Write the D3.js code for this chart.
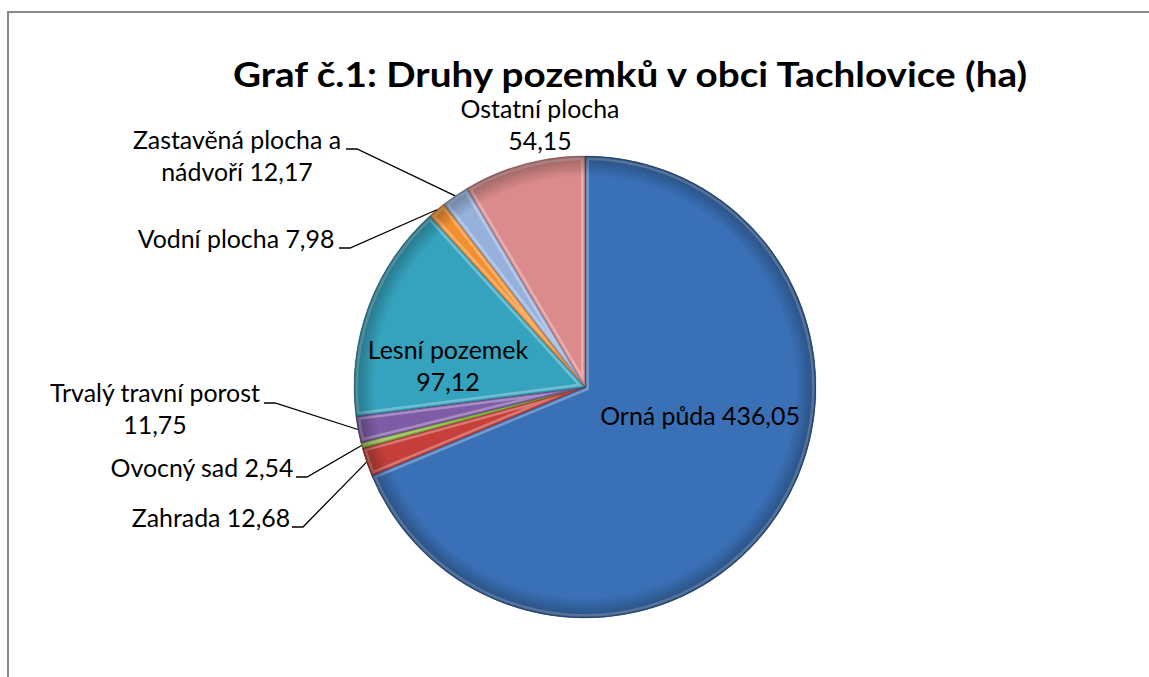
<!doctype html>
<html>
<head>
  <meta charset="utf-8">
  <style>
      body { margin:0; background:#fff; }
      svg { display:block; }
      text { font-family: Lato, "Open Sans", sans-serif; fill:#000; }
      .title { font-weight:bold; text-anchor:middle; }
      .lead { fill:none; stroke:#000; stroke-width:1.3; }
  </style>
  <script src="https://cdn.jsdelivr.net/npm/d3@7"></script>
</head>
<body>
  <script>
      // data
      var categories = ["Orná půda", "Zahrada", "Ovocný sad", "Trvalý travní porost",
                        "Lesní pozemek", "Vodní plocha", "Zastavěná plocha a nádvoří", "Ostatní plocha"];
      var values = [436.05, 12.68, 2.54, 11.75, 97.12, 7.98, 12.17, 54.15];
      var valueLabels = ["436,05", "12,68", "2,54", "11,75", "97,12", "7,98", "12,17", "54,15"];
      var colors = ["#3a70b6", "#c63f3a", "#8ab540", "#7f5ca6", "#35a3bd", "#f48f30", "#95b1dc", "#db8b8b"];

      // label lines (how Excel wrapped them)
      var labelLines = [
         ["Orná půda 436,05"],
         ["Zahrada 12,68"],
         ["Ovocný sad 2,54"],
         ["Trvalý travní porost", "11,75"],
         ["Lesní pozemek", "97,12"],
         ["Vodní plocha 7,98"],
         ["Zastavěná plocha a", "nádvoří 12,17"],
         ["Ostatní plocha", "54,15"]
      ];

      // layout of labels: centre x, first baseline y, leader start (null = no leader)
      var labelLayout = [
         {x:700, y:425, lead:null},
         {x:211, y:527, lead:[292, 527]},
         {x:202, y:477, lead:[296, 477]},
         {x:155, y:402, lead:[264, 403]},
         {x:448, y:359, lead:null},
         {x:236, y:248, lead:[339, 248]},
         {x:237, y:149, lead:[346, 149]},
         {x:540, y:118, lead:null}
      ];

      var W = 1149, H = 677;
      var cx = 585, cy = 387, R = 231;
      var lineH = 32;

      var svg = d3.select("body").append("svg")
         .attr("width", W)
         .attr("height", H);

      var defs = svg.append("defs");

      // frame (chart area border, partly cut off)
      svg.append("path")
         .attr("d", "M8," + H + " L8,12 L" + W + ",12")
         .attr("fill", "none")
         .attr("stroke", "#8a8a8a")
         .attr("stroke-width", 2);

      // title, squeezed to the width of the original
      svg.append("text")
         .attr("class", "title")
         .attr("x", 630)
         .attr("y", 87)
         .attr("textLength", 794)
         .attr("lengthAdjust", "spacingAndGlyphs")
         .style("font-size", "34px")
         .text("Graf č.1: Druhy pozemků v obci Tachlovice (ha)");

      // pie
      var pie = d3.pie().sort(null).value(function(d) { return d; });
      var arcs = pie(values);
      var arc = d3.arc().innerRadius(0).outerRadius(R);
      var rimArc = d3.arc().innerRadius(R).outerRadius(R);

      var g = svg.append("g").attr("transform", "translate(" + cx + "," + cy + ")");

      arcs.forEach(function(a, i) {
         defs.append("clipPath").attr("id", "clip" + i)
            .append("path").attr("d", arc(a));
      });

      var slice = g.selectAll("g.slice")
         .data(arcs)
         .enter()
         .append("g")
         .attr("class", "slice");

      slice.append("path")
         .attr("d", arc)
         .attr("fill", function(d, i) { return colors[i]; });

      // bevel: light inner edge
      slice.append("path")
         .attr("d", arc)
         .attr("clip-path", function(d, i) { return "url(#clip" + i + ")"; })
         .attr("fill", "none")
         .attr("stroke", "#fff")
         .attr("stroke-opacity", 0.3)
         .attr("stroke-width", 8);

      slice.append("path")
         .attr("d", arc)
         .attr("clip-path", function(d, i) { return "url(#clip" + i + ")"; })
         .attr("fill", "none")
         .attr("stroke", function(d, i) { return colors[i]; })
         .attr("stroke-width", 3);

      // dark rim shading
      var rg = defs.append("radialGradient").attr("id", "rim")
         .attr("cx", 0.5).attr("cy", 0.5).attr("r", 0.5);
      rg.append("stop").attr("offset", "91%").attr("stop-color", "#000").attr("stop-opacity", 0);
      rg.append("stop").attr("offset", "100%").attr("stop-color", "#000").attr("stop-opacity", 0.3);

      g.append("circle")
         .attr("r", R)
         .attr("fill", "url(#rim)");

      slice.append("path")
         .attr("d", arc)
         .attr("fill", "none")
         .attr("stroke", "#000")
         .attr("stroke-opacity", 0.3)
         .attr("stroke-width", 0.8);

      // labels
      var fs = 20;
      var probe = svg.append("text").style("font-size", "20px").text("Trvalý travní porost");
      fs = 20 * 210 / probe.node().getComputedTextLength();
      probe.remove();

      arcs.forEach(function(a, i) {
         var lay = labelLayout[i];
         var t = svg.append("text")
            .attr("text-anchor", "middle")
            .style("font-size", fs + "px");
         labelLines[i].forEach(function(s, k) {
            t.append("tspan")
               .attr("x", lay.x)
               .attr("y", lay.y + k * lineH)
               .text(s);
         });
         if (lay.lead) {
            var p = rimArc.centroid(a);
            svg.append("polyline")
               .attr("class", "lead")
               .attr("points", [lay.lead, [lay.lead[0] + 11, lay.lead[1]], [cx + p[0], cy + p[1]]].join(" "));
         }
      });
  </script>
</body>
</html>
